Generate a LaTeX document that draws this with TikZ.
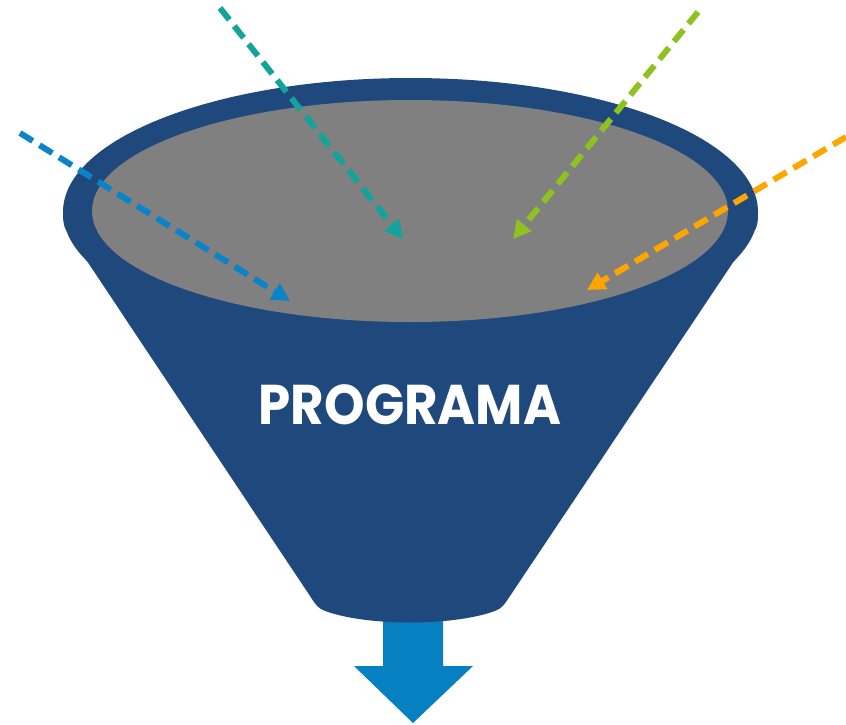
\documentclass[tikz,border=0pt]{standalone}
\usepackage{fontspec}
\newfontfamily\popfont{Poppins}
\usetikzlibrary{arrows.meta}
\definecolor{funnelblue}{HTML}{1F497D}
\definecolor{innergray}{HTML}{808080}
\definecolor{outblue}{HTML}{0780C2}
\definecolor{arrblue}{HTML}{0A84C8}
\definecolor{arrteal}{HTML}{12A39A}
\definecolor{arrgreen}{HTML}{8DC21F}
\definecolor{arrorange}{HTML}{FFA500}
\begin{document}
\begin{tikzpicture}[x=1pt,y=-1pt,
  inarrow/.style={line width=6pt,dash pattern=on 15pt off 8pt,
    -{Triangle[length=18pt,width=18pt]}},
  label/.style={text=white,font=\popfont\bfseries\fontsize{56}{60}\selectfont,inner sep=0pt,xscale=0.92}]
\useasboundingbox (0,0) rectangle (846,724);
% output arrow
\fill[outblue] (383,600) -- (443,600) -- (443,666) -- (473,666) -- (413,723)
  -- (354,666) -- (383,666) -- cycle;
% funnel body
\fill[funnelblue] (410.5,212) ellipse [x radius=347.5, y radius=134];
\fill[funnelblue] (63,212) .. controls (63,220) and (63.5,224) .. (65,228) -- (314,602)
  .. controls (318,608) and (322,610) .. (328,612)
  .. controls (370,626) and (450,626) .. (492,612)
  .. controls (498,610) and (502,608) .. (506,602)
  -- (756,228) .. controls (757.5,224) and (758,220) .. (758,212) -- cycle;
\fill[innergray] (410,211) ellipse [x radius=318, y radius=111];
\node[label] (prog) at (410,405) {PROGRAMA};
% incoming arrows
\coordinate (bS) at (20,133);  \coordinate (bE) at (290,301);
\coordinate (tS) at (220,8);   \coordinate (tE) at (403,239);
\coordinate (gS) at (698,12);  \coordinate (gE) at (513,239);
\coordinate (oS) at (846,137); \coordinate (oE) at (587,290);
\draw[inarrow,arrblue] (bS) -- (bE);
\draw[inarrow,arrteal] (tS) -- (tE);
\draw[inarrow,arrgreen] (gS) -- (gE);
\draw[inarrow,arrorange] (oS) -- (oE);
\end{tikzpicture}
\end{document}
